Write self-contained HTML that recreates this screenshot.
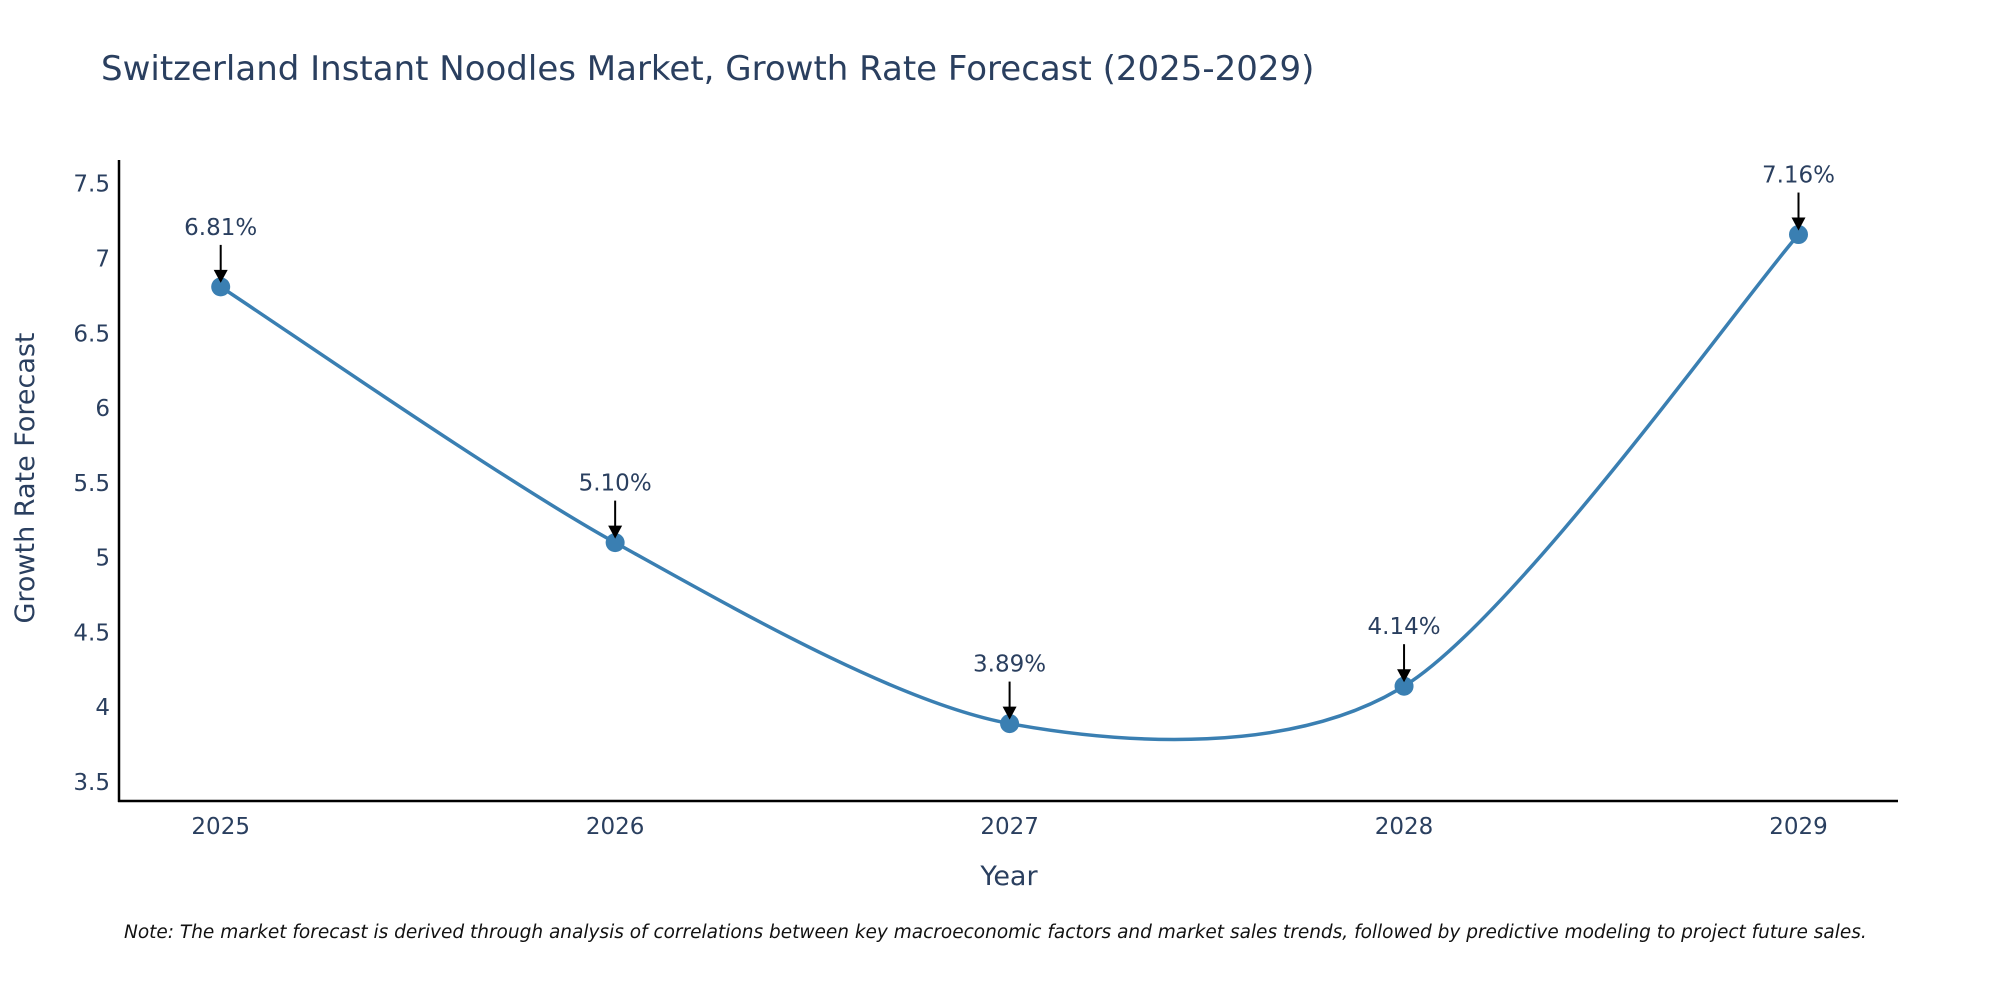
<!DOCTYPE html>
<html><head><meta charset="utf-8"><style>
body{margin:0;background:#fff}
svg text{font-family:"DejaVu Sans","Liberation Sans",sans-serif}
</style></head><body>
<svg id="chart" width="2000" height="1000" xmlns="http://www.w3.org/2000/svg">
<text x="101" y="80" font-size="34" fill="#2a3f5f">Switzerland Instant Noodles Market, Growth Rate Forecast (2025-2029)</text>
<g id="yticks"></g><g id="xticks"></g>
<line x1="119" y1="160" x2="119" y2="802" stroke="#000" stroke-width="2.5"/>
<line x1="118" y1="801" x2="1898" y2="801" stroke="#000" stroke-width="2.5"/>
<path id="line" fill="none" stroke="#3a7fb2" stroke-width="3.5"/>
<g id="marks"></g>
<text transform="translate(34,478) rotate(-90)" text-anchor="middle" font-size="27" fill="#2a3f5f">Growth Rate Forecast</text>
<text x="1009" y="885" text-anchor="middle" font-size="27" fill="#2a3f5f">Year</text>
<text x="124" y="938" font-size="18.5" font-style="italic" fill="#111">Note: The market forecast is derived through analysis of correlations between key macroeconomic factors and market sales trends, followed by predictive modeling to project future sales.</text>
</svg>
<script>
const years=["2025","2026","2027","2028","2029"];
const values=[6.81,5.10,3.89,4.14,7.16];
const labels=["6.81%","5.10%","3.89%","4.14%","7.16%"];
const yTicks=[3.5,4,4.5,5,5.5,6,6.5,7,7.5];
const yTickLabels=["3.5","4","4.5","5","5.5","6","6.5","7","7.5"];
const NS="http://www.w3.org/2000/svg";
const xS=i=>220.7+i*(1798.5-220.7)/4;
const yS=v=>781.9-(v-3.5)*(781.9-183.7)/4;
function mk(t,a,p){const e=document.createElementNS(NS,t);for(const k in a)e.setAttribute(k,a[k]);p.appendChild(e);return e;}
const yt=document.getElementById('yticks');
yTicks.forEach((v,i)=>{const t=mk('text',{x:110,y:yS(v)+8,'text-anchor':'end','font-size':23,fill:'#2a3f5f'},yt);t.textContent=yTickLabels[i];

});
const xt=document.getElementById('xticks');
years.forEach((y,i)=>{const t=mk('text',{x:xS(i),y:834,'text-anchor':'middle','font-size':23,fill:'#2a3f5f'},xt);t.textContent=y;

});
const P=values.map((v,i)=>[xS(i),yS(v)]);
let d=`M${P[0][0]},${P[0][1]}`;
const k=1/7;
for(let i=0;i<P.length-1;i++){const p0=P[i-1]||P[i],p1=P[i],p2=P[i+1],p3=P[i+2]||P[i+1];
const c1=[p1[0]+(p2[0]-p0[0])*k,p1[1]+(p2[1]-p0[1])*k],c2=[p2[0]-(p3[0]-p1[0])*k,p2[1]-(p3[1]-p1[1])*k];
d+=` C${c1[0]},${c1[1]} ${c2[0]},${c2[1]} ${p2[0]},${p2[1]}`;}
document.getElementById('line').setAttribute('d',d);
const g=document.getElementById('marks');
P.forEach((p,i)=>{
const c=mk('circle',{cx:p[0],cy:p[1],r:9.5,fill:'#3a7fb2'},g);


const l=mk('line',{x1:p[0],y1:p[1]-42,x2:p[0],y2:p[1]-14,stroke:'#000','stroke-width':2},g);


const h=mk('path',{d:`M${p[0]-7},${p[1]-17} L${p[0]+7},${p[1]-17} L${p[0]},${p[1]-4} Z`,fill:'#000'},g);


const t=mk('text',{x:p[0],y:p[1]-52,'text-anchor':'middle','font-size':23,fill:'#2a3f5f'},g);t.textContent=labels[i];


});
</script>
</body></html>
